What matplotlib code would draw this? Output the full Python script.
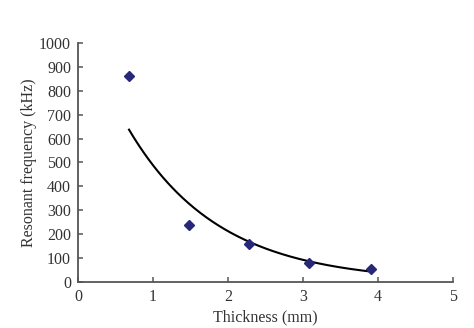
import numpy as np
import matplotlib
matplotlib.use("Agg")
import matplotlib.pyplot as plt

# Measured resonant frequency vs. plate thickness
thickness_mm = [0.68, 1.48, 2.28, 3.08, 3.90]
frequency_khz = [860, 238, 158, 78, 53]

x_ticks = [0, 1, 2, 3, 4, 5]
y_ticks = list(range(0, 1001, 100))

plt.rcParams["font.family"] = ["Liberation Serif", "DejaVu Serif"]

fig = plt.figure(figsize=(4.74, 3.28), dpi=100)
ax = fig.add_axes([0.1646, 0.1402, 0.7911, 0.7288])

# Exponential trend line y = a*exp(b*x), least squares in log space
x = np.asarray(thickness_mm)
y = np.asarray(frequency_khz)
b, ln_a = np.polyfit(x, np.log(y), 1)
xf = np.linspace(x.min(), x.max(), 200)
ax.plot(xf, np.exp(ln_a) * np.exp(b * xf), color="black", lw=1.5, zorder=2)

ax.plot(x, y, linestyle="none", marker="D", markersize=5.6,
        color="#28287a", markeredgecolor="#28287a", zorder=3)

ax.set_xlim(0, 5)
ax.set_ylim(0, 1000)
ax.set_xticks(x_ticks)
ax.set_yticks(y_ticks)

for side in ("top", "right"):
    ax.spines[side].set_visible(False)
for side in ("left", "bottom"):
    ax.spines[side].set_color("#555555")
    ax.spines[side].set_linewidth(1.3)

ax.tick_params(axis="both", direction="in", length=3.5, width=1.1,
               color="#555555", labelsize=11.5, labelcolor="#333333", pad=5)

ax.set_xlabel("Thickness (mm)", fontsize=11.5, color="#333333", labelpad=3)
ax.set_ylabel("Resonant frequency (kHz)", fontsize=11.5, color="#333333",
              labelpad=1.5)

fig.savefig("out.png", dpi=100)
